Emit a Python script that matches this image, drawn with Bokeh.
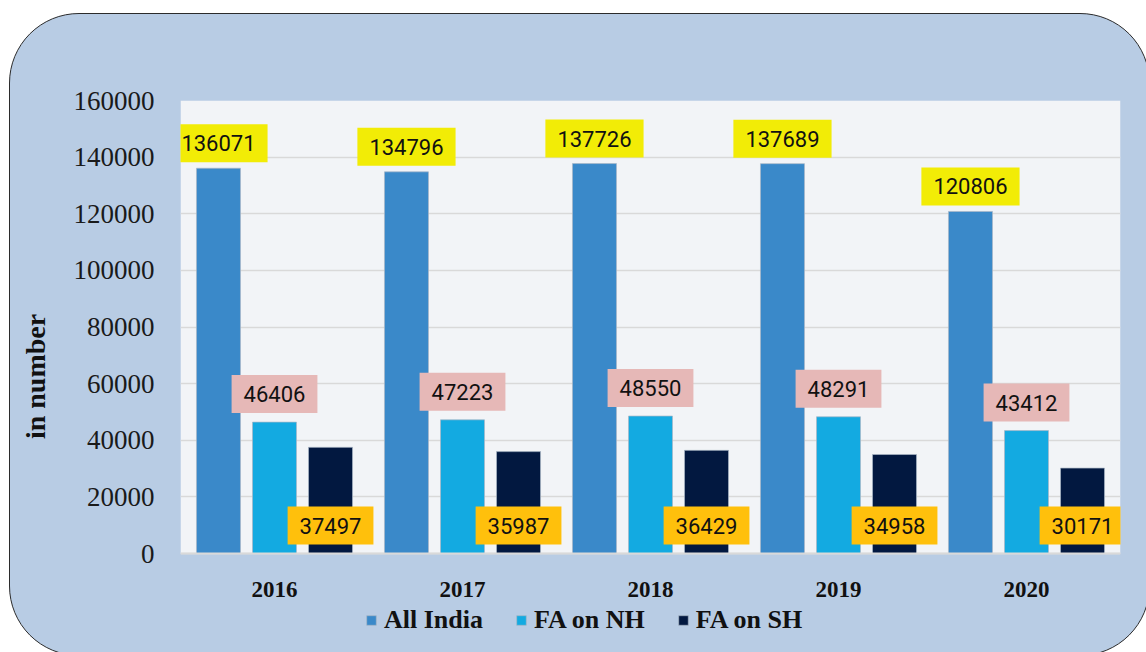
from bokeh.plotting import figure
from bokeh.models import (ColumnDataSource, FactorRange, Legend, LegendItem,
                          NumeralTickFormatter, FixedTicker, BoxAnnotation,
                          Range1d)
from bokeh.transform import dodge
from bokeh.core.properties import value
from bokeh.embed import file_html
from bokeh.resources import INLINE

# ---------------- data ----------------
years = ["2016", "2017", "2018", "2019", "2020"]
all_india = [136071, 134796, 137726, 137689, 120806]
fa_nh = [46406, 47223, 48550, 48291, 43412]
fa_sh = [37497, 35987, 36429, 34958, 30171]
series_names = ["All India", "FA on NH", "FA on SH"]
y_ticks = [0, 20000, 40000, 60000, 80000, 100000, 120000, 140000, 160000]
y_label = "in number"

# ---------------- styles / layout ----------------
bar_colors = ["#3a89c9", "#13aae1", "#021840"]
label_fills = ["#f2ec06", "#e6b8b7", "#ffc00c"]
offsets = [-0.298, 0.0, 0.298]
bar_w = 0.234
Y_MAX = 160000
PLOT_PX = 453        # pixel height of the 0..160000 plot area
BELOW_PX = 99        # pixel space below the zero line (x labels, legend)

src = ColumnDataSource(dict(
    year=years,
    ai=all_india, nh=fa_nh, sh=fa_sh,
    ai_t=[str(v) for v in all_india],
    nh_t=[str(v) for v in fa_nh],
    sh_t=[str(v) for v in fa_sh],
    zero=[0] * len(years),
))

css = """
:host { position: relative; overflow: hidden; isolation: isolate; }
:host::before {
  content: ""; position: absolute; left: 9px; top: 13px;
  width: 1141px; height: 643px; box-sizing: border-box;
  border: 1.5px solid #2b2b2b; border-radius: 70px;
  background: #b8cce4; z-index: -1;
}
"""

y_start = -Y_MAX * BELOW_PX / PLOT_PX
p = figure(x_range=FactorRange(*years), y_range=Range1d(y_start, Y_MAX),
           frame_width=940, frame_height=PLOT_PX + BELOW_PX,
           x_axis_location=None,
           output_backend="svg", toolbar_location=None,
           min_border_left=180, min_border_right=26, min_border_top=100,
           min_border_bottom=0, background_fill_color=None,
           border_fill_color=None, outline_line_color=None,
           stylesheets=[css])

# grey plot area (0 .. max)
p.add_layout(BoxAnnotation(bottom=0, top=Y_MAX, fill_color="#f2f4f7",
                           fill_alpha=1, line_color=None, level="image"))

cols = ["ai", "nh", "sh"]
renderers = []
for c, col, off in zip(cols, bar_colors, offsets):
    r = p.vbar(x=dodge("year", off, range=p.x_range), top=c, width=bar_w,
               source=src, fill_color=col, line_color="#aab6c6",
               line_alpha=0.7, line_width=1)
    renderers.append(r)

# baseline (category axis line)
p.hspan(y=[0], line_color="#d9d9d9", line_width=2)

common = dict(source=src, text_align="center", text_baseline="bottom",
              text_font=value("Roboto"), text_font_size="22px",
              text_color="#111111", padding=(12, 11))
p.text(x=dodge("year", offsets[0], range=p.x_range), y="ai", text="ai_t",
       y_offset=-6, background_fill_color=label_fills[0], **common)
p.text(x=dodge("year", offsets[1], range=p.x_range), y="nh", text="nh_t",
       y_offset=-9, background_fill_color=label_fills[1], **common)
p.text(x=dodge("year", offsets[2], range=p.x_range), y="zero", text="sh_t",
       y_offset=-9, background_fill_color=label_fills[2], **common)

# category labels (years) under the zero line
p.text(x="year", y="zero", text="year", source=src, text_align="center",
       text_baseline="top", y_offset=28, text_font=value("Liberation Serif"),
       text_font_style="bold", text_font_size="23px", text_color="#111111")

# y axis (bounded to the 0..160000 area so its title centres there)
p.yaxis.bounds = (0, Y_MAX)
p.yaxis.ticker = FixedTicker(ticks=y_ticks)
p.yaxis.formatter = NumeralTickFormatter(format="0")
p.yaxis.axis_line_color = None
p.yaxis.major_tick_line_color = None
p.yaxis.minor_tick_line_color = None
p.yaxis.major_label_standoff = 20
p.yaxis.major_label_text_font = "Liberation Serif"
p.yaxis.major_label_text_font_size = "27px"
p.yaxis.major_label_text_color = "#1a1a1a"
p.yaxis.axis_label = y_label
p.yaxis.axis_label_text_font = "Liberation Serif"
p.yaxis.axis_label_text_font_style = "bold"
p.yaxis.axis_label_text_font_size = "28px"
p.yaxis.axis_label_text_color = "#111111"
p.yaxis.axis_label_standoff = 20

p.xgrid.grid_line_color = None
p.ygrid.ticker = FixedTicker(ticks=y_ticks)
p.ygrid.grid_line_color = "#d9d9d9"
p.ygrid.grid_line_width = 1.5

legend = Legend(items=[LegendItem(label=n, renderers=[r])
                       for n, r in zip(series_names, renderers)],
                orientation="horizontal", location=(185, 17),
                padding=0, margin=0, spacing=32, label_standoff=7,
                glyph_width=12, glyph_height=12,
                background_fill_alpha=0, border_line_color=None,
                label_text_font="Liberation Serif",
                label_text_font_style="bold", label_text_font_size="26px",
                label_text_color="#111111")
p.add_layout(legend, "center")

open("out.html", "w").write(file_html(p, INLINE))
